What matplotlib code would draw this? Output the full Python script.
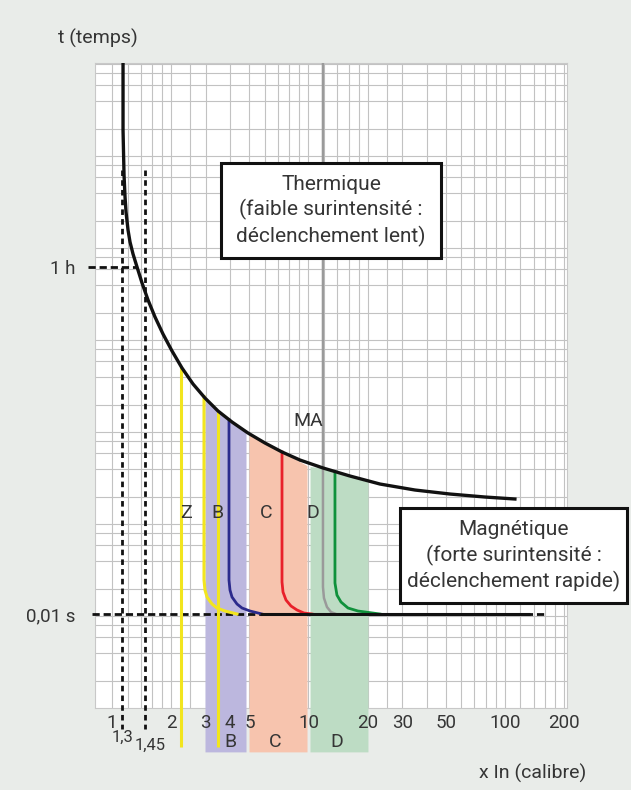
import numpy as np
import matplotlib
matplotlib.use("Agg")
import matplotlib.pyplot as plt
from matplotlib.patches import Rectangle
from matplotlib.ticker import NullLocator

plt.rcParams['font.family'] = ['Roboto', 'DejaVu Sans']

# ---------------- data ----------------
# thermal (MA) curve : x = multiple of In, t in seconds
thermal_x = [1.1376, 1.1376, 1.1510, 1.1646, 1.1783, 1.2062, 1.2348, 1.2790, 1.3404,
             1.4213, 1.5249, 1.6548, 1.8173, 2.0203, 2.2709, 2.5839, 2.9736, 3.4631,
             4.0805, 4.9208, 6.0065, 7.3318, 9.0515, 11.854, 16.264, 23.114, 34.834,
             52.508, 79.11, 112.4]
thermal_t = [6.65e6, 5.62e5, 1.07e5, 4.76e4, 2.735e4, 1.408e4, 9046, 5815, 3600,
             1996, 1066, 570, 304.4, 162.7, 86.9, 48.2, 28.7, 17.8,
             11.87, 7.91, 5.47, 3.93, 2.92, 2.18, 1.62, 1.206, 0.967,
             0.834, 0.747, 0.694]

# magnetic trip curves (vertical part then bend onto the 0.01 s line)
yellowB_x = [2.939, 2.939, 2.973, 3.045, 3.228, 3.422, 3.759, 4.326]
yellowB_t = [30.0, 0.0350, 0.0242, 0.0187, 0.01446, 0.01248, 0.01117, 0.01]
blueB_x = [3.939, 3.939, 3.985, 4.080, 4.326, 4.587, 5.039, 5.800]
blueB_t = [12.8, 0.0350, 0.0242, 0.0187, 0.01446, 0.01248, 0.01117, 0.01]
redC_x = [7.332, 7.332, 7.418, 7.683, 8.146, 8.740, 9.487, 10.42]
redC_t = [3.93, 0.0325, 0.0225, 0.01675, 0.01343, 0.01159, 0.01037, 0.01]
grayMA_x = [11.85, 11.85, 11.99, 12.42, 13.02, 13.80]
grayMA_t = [6.65e6, 0.0270, 0.01803, 0.01294, 0.01076, 0.01]
greenD_x = [13.64, 13.64, 13.96, 14.64, 15.89, 17.86, 23.11]
greenD_t = [1.90, 0.0313, 0.0201, 0.01556, 0.01248, 0.01117, 0.01]

# straight yellow lines (Z and B)
yellow_straight_x = [2.244, 3.463]
yellow_straight_top = [90.0, 17.8]
line_bottom_t = 7.4e-5

# coloured bands B / C / D (x range and top following the thermal curve)
bandB_x = [2.973, 3.463, 4.081, 4.808]
bandB_top = [28.7, 17.8, 11.87, 8.2]
bandC_x = [4.981, 6.007, 7.332, 9.83]
bandC_top = [7.6, 5.47, 3.93, 2.38]
bandD_x = [10.18, 11.854, 16.264, 20.08]
bandD_top = [2.30, 2.18, 1.62, 1.30]
band_bottom_t = 6.2e-5

# reference lines
t_01 = 0.01
t_1h = 3600
dash01_x = [0.791, 159.8]
solid01_x = [5.666, 134.1]
dash1h_x = [0.755, 1.340]
vdash_x = [1.124, 1.472]
vdash_t = [1.28e5, 1.44e-4]

# tick labels
xtick_vals = [1, 2, 3, 4, 5, 10, 20, 30, 50, 100, 200]
xtick_labels = ['1', '2', '3', '4', '5', '10', '20', '30', '50', '100', '200']
ytick_vals = [3600, 0.01]
ytick_labels = ['1 h', '0,01 s']

# ---------------- figure ----------------
W, H = 631, 790
fig = plt.figure(figsize=(W / 100, H / 100), dpi=100)
fig.patch.set_facecolor('#e9ece9')
TXT = '#353535'

pos = [95 / W, 1 - 708 / H, (567 - 95) / W, (708 - 63) / H]
XLIM = (0.819, 207)
YLIM = (10 ** -3.505, 10 ** 6.823)

# grid (log paper) axes behind
axg = fig.add_axes(pos)
axg.set_facecolor('white')
axg.set_xscale('log')
axg.set_yscale('log')
gx = [m * 10 ** k for k in range(0, 3)
      for m in [1, 1.2, 1.4, 1.6, 1.8, 2, 2.5, 3, 4, 5, 6, 7, 8, 9]]
gy = [m * 10 ** k for k in range(-3, 5) for m in [1, 1.5, 2, 2.5, 5]]
axg.set_xticks(gx)
axg.set_yticks(gy)
axg.xaxis.set_minor_locator(NullLocator())
axg.yaxis.set_minor_locator(NullLocator())
axg.set_xlim(*XLIM)
axg.set_ylim(10 ** -2.598, 10 ** 4.413)
axg.tick_params(length=0, labelbottom=False, labelleft=False)
axg.grid(True, color='#c2c2c2', lw=0.8)
for s in axg.spines.values():
    s.set_color('#c8c8c8')
    s.set_linewidth(0.8)

# main axes on top
ax = fig.add_axes(pos)
ax.set_facecolor('none')
ax.set_xscale('log')
ax.set_yscale('log')
ax.set_xlim(*XLIM)
ax.set_ylim(*YLIM)
for s in ax.spines.values():
    s.set_visible(False)
ax.set_xticks(xtick_vals)
ax.set_xticklabels(xtick_labels)
ax.set_yticks(ytick_vals)
ax.set_yticklabels(ytick_labels)
ax.xaxis.set_minor_locator(NullLocator())
ax.yaxis.set_minor_locator(NullLocator())
ax.tick_params(axis='x', length=0, pad=4, labelsize=13.5, labelcolor=TXT)
ax.tick_params(axis='y', length=0, pad=14, labelsize=13.5, labelcolor=TXT)

# bands
for bx, bt, col in [(bandB_x, bandB_top, '#bcb7de'),
                    (bandC_x, bandC_top, '#f7c4ae'),
                    (bandD_x, bandD_top, '#bddcc4')]:
    ax.fill_between(bx, bt, band_bottom_t, color=col, lw=0, zorder=1, clip_on=False)

# dashed reference lines
DASH = (0, (2.6, 1.4))
ax.plot(dash01_x, [t_01, t_01], color='#111111', lw=2, ls=DASH, zorder=3, clip_on=False)
ax.plot(dash1h_x, [t_1h, t_1h], color='#111111', lw=2, ls=DASH, zorder=3, clip_on=False)
for vx in vdash_x:
    ax.plot([vx, vx], vdash_t, color='#111111', lw=2, ls=(0, (2.0, 1.5)), zorder=3,
            clip_on=False)

# straight yellow lines
for x0, t0 in zip(yellow_straight_x, yellow_straight_top):
    ax.plot([x0, x0], [t0, line_bottom_t], color='#f2e51e', lw=2.2, zorder=4,
            clip_on=False, solid_capstyle='butt')

# trip curves
ax.plot(grayMA_x, grayMA_t, color='#9a9a9a', lw=1.8, zorder=4)
ax.plot(yellowB_x, yellowB_t, color='#f2e51e', lw=2.2, zorder=4)
ax.plot(blueB_x, blueB_t, color='#2b2a8c', lw=2.0, zorder=4)
ax.plot(redC_x, redC_t, color='#e8202a', lw=2.0, zorder=4)
ax.plot(greenD_x, greenD_t, color='#10913c', lw=2.0, zorder=4)

# solid 0.01 s line
ax.plot(solid01_x, [t_01, t_01], color='#111111', lw=2.2, zorder=5,
        solid_capstyle='butt')

# thermal curve
ax.plot(thermal_x, thermal_t, color='#111111', lw=2.4, zorder=6,
        solid_joinstyle='round')

# in-plot labels
for s, x0 in [('Z', 2.380), ('B', 3.422), ('C', 6.076), ('D', 10.54)]:
    ax.text(x0, 0.414, s, ha='center', va='center', fontsize=14, color=TXT, zorder=7)
ax.text(9.94, 12.3, 'MA', ha='center', va='center', fontsize=14, color=TXT, zorder=7)

# labels below the axis
for s, x0 in [('B', 3.985), ('C', 6.753), ('D', 13.96)]:
    ax.text(x0, 8.9e-5, s, ha='center', va='center', fontsize=14, color=TXT,
            clip_on=False)
ax.text(1.137, 1.07e-4, '1,3', ha='center', va='center', fontsize=12, color=TXT,
        clip_on=False)
ax.text(1.561, 7.98e-5, '1,45', ha='center', va='center', fontsize=12, color=TXT,
        clip_on=False)

# axis titles
fig.text(58 / W, 1 - 38 / H, 't (temps)', ha='left', va='center', fontsize=14, color=TXT)
fig.text(586 / W, 1 - 773 / H, 'x In (calibre)', ha='right', va='center', fontsize=14,
         color=TXT)

# annotation boxes
fig.add_artist(Rectangle((221 / W, 1 - 258 / H), 220 / W, 95 / H,
                         transform=fig.transFigure, facecolor='white',
                         edgecolor='#111111', lw=2.2, zorder=8))
fig.text(331 / W, 1 - 211 / H, 'Thermique\n(faible surintensité :\ndéclenchement lent)',
         ha='center', va='center', fontsize=15, color=TXT, linespacing=1.3, zorder=9)
fig.add_artist(Rectangle((400 / W, 1 - 603 / H), 227 / W, 95 / H,
                         transform=fig.transFigure, facecolor='white',
                         edgecolor='#111111', lw=2.2, zorder=8))
fig.text(514 / W, 1 - 556 / H, 'Magnétique\n(forte surintensité :\ndéclenchement rapide)',
         ha='center', va='center', fontsize=15, color=TXT, linespacing=1.3, zorder=9)

fig.savefig('out.png', dpi=100, facecolor=fig.get_facecolor())
